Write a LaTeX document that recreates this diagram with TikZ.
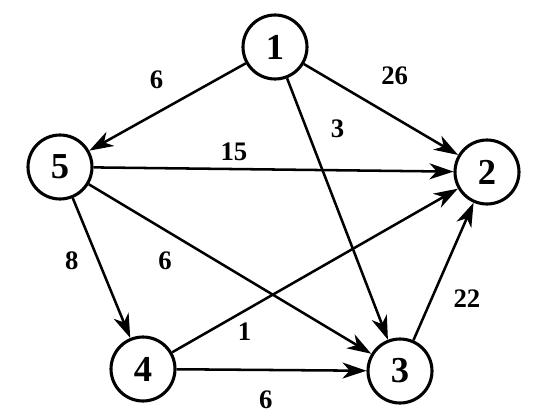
\documentclass[tikz,border=0pt]{standalone}
\usepackage{fontspec}
\setmainfont{Liberation Serif}
\usepackage{tikz}
\usetikzlibrary{arrows.meta, positioning}
\tikzset{
    vertex/.style={
        circle, draw=black, line width=2.2pt, minimum size=1.6cm, inner sep=0pt,
        font=\fontsize{26}{26}\selectfont\bfseries
    },
    edge/.style={
        line width=1.8pt, -{Stealth[length=6mm, width=4mm, inset=1.8mm]}, draw=black
    },
    weight/.style={
        font=\fontsize{19}{19}\selectfont\bfseries, inner sep=2pt
    }
}
\begin{document}
\begin{tikzpicture}
    \useasboundingbox (0,0) rectangle (13.35,-10.5);
    \node[vertex] (n1) at (6.875, -1.175) {1};
    \node[vertex] (n5) at (1.5, -4.175) {5};
    \node[vertex] (n2) at (12.175, -4.3) {2};
    \node[vertex] (n4) at (3.575, -9.225) {4};
    \node[vertex] (n3) at (10.0, -9.275) {3};

    \draw[edge] (n1) -- node[weight, pos=0.45, above left=2.5mm and 2mm] {6} (n5);
    \draw[edge] (n1) -- node[weight, pos=0.45, above right=4mm and 1mm] {26} (n2);
    \draw[edge] (n1) -- node[weight, pos=0.195, right=5mm] {3} (n3);
    \draw[edge] (n5) -- node[weight, pos=0.39, above=1mm] {15} (n2);
    \draw[edge] (n5) -- node[weight, pos=0.27, below=4.5mm] {6} (n3);
    \draw[edge] (n5) -- node[weight, pos=0.45, left=4mm] {8} (n4);
    \draw[edge] (n4) -- node[weight, pos=0.216, below right=0.5mm and 0mm] {1} (n2);
    \draw[edge] (n3) -- node[weight, pos=0.3, right=4.5mm] {22} (n2);
    \draw[edge] (n4) -- node[weight, pos=0.47, below=4.2mm] {6} (n3);
\end{tikzpicture}
\end{document}
